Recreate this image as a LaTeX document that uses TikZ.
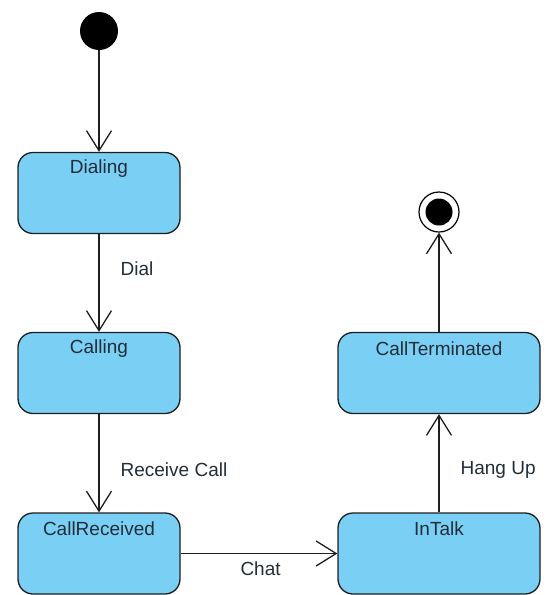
\documentclass[tikz,border=0pt]{standalone}
\usepackage{fontspec}
\setmainfont{Liberation Sans}
\usetikzlibrary{arrows.meta}
\definecolor{stfill}{RGB}{122,207,245}
\definecolor{stline}{RGB}{30,30,30}
\definecolor{txt}{RGB}{35,45,55}
\begin{document}
\begin{tikzpicture}[x=1pt,y=-1pt,
  state/.style={draw=stline, line width=1.3pt, fill=stfill, rounded corners=15pt,
    minimum width=162pt, minimum height=81pt},
  stname/.style={font=\fontsize{19}{21}\selectfont, text=txt, inner sep=0pt},
  lab/.style={font=\fontsize{19}{21}\selectfont, text=txt, inner sep=0pt},
  tr/.style={draw=stline, line width=1.3pt, -{Straight Barb[length=20pt,width=25pt,line width=1.3pt]}},
]
\useasboundingbox (0,0) rectangle (560,595);
% initial
\node[circle, fill=black, minimum size=38pt, inner sep=0pt] (init) at (99,31) {};
% states
\node[state] (dialing) at (99,193) {};
\node[stname] at (99,169) {Dialing};
\node[state] (calling) at (99,373) {};
\node[stname] at (99,349) {Calling};
\node[state] (recv) at (99,553.5) {};
\node[stname] at (99,529) {CallReceived};
\node[state, minimum width=202pt] (talk) at (439,553.5) {};
\node[stname] at (439,529) {InTalk};
\node[state, minimum width=202pt] (term) at (439,373) {};
\node[stname] at (439,349) {CallTerminated};
% final
\node[circle, draw=black, line width=1.2pt, fill=white, minimum size=40pt, inner sep=0pt] (final) at (439,212) {};
\node[circle, fill=black, minimum size=27pt, inner sep=0pt] (finaldot) at (final) {};
% transitions
\draw[tr] (init.south) -- (dialing.north);
\draw[tr] (dialing.south) -- node[lab, pos=0.35, anchor=west, xshift=21pt] {Dial} (calling.north);
\draw[tr] (calling.south) -- node[lab, pos=0.57, anchor=west, xshift=21pt] {Receive Call} (recv.north);
\draw[tr] (recv.east) -- node[lab, pos=0.51, anchor=north, yshift=-8pt] {Chat} (talk.west);
\draw[tr] (talk.north) -- node[lab, pos=0.43, anchor=west, xshift=21pt] {Hang Up} (term.south);
\draw[tr] (term.north) -- (final.south);
\end{tikzpicture}
\end{document}
